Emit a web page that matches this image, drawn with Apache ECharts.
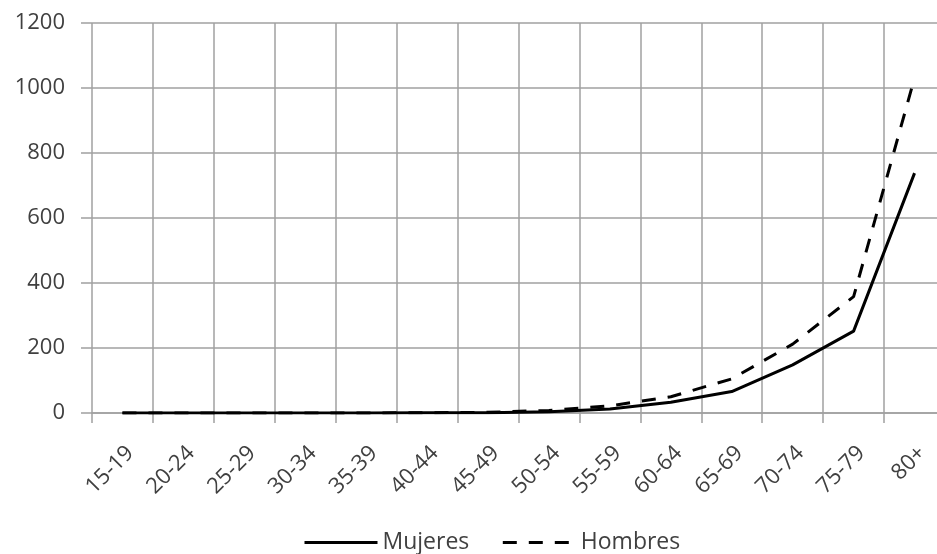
<!DOCTYPE html>
<html>
<head>
<meta charset="utf-8">
<script src="https://cdn.jsdelivr.net/npm/echarts@6/dist/echarts.min.js"></script>
<style>
html,body{margin:0;padding:0;background:#fff;}
#c{width:937px;height:554px;}
</style>
</head>
<body>
<div id="c"></div>
<script>
const categories = ['15-19','20-24','25-29','30-34','35-39','40-44','45-49','50-54','55-59','60-64','65-69','70-74','75-79','80+'];
const mujeres = [0, 0, 0, 0, 0, 0.5, 1, 4, 12, 33, 66, 148, 252, 738];
const hombres = [0, 0, 0, 0, 0, 1, 2, 8, 22, 50, 105, 212, 358, 1031];
const yTicks = { min: 0, max: 1200, interval: 200 };

const FONT = '"Open Sans", "Noto Sans", sans-serif';
const GRID = '#a0a0a0';
const TXT = '#404040';

const chart = echarts.init(document.getElementById('c'), null, { renderer: 'canvas' });
chart.setOption({
  animation: false,
  backgroundColor: '#fff',
  grid: { left: 92, top: 23, width: 853, height: 390, containLabel: false, outerBoundsMode: 'none' },
  xAxis: {
    type: 'category',
    data: categories,
    boundaryGap: true,
    axisLine: { show: true, lineStyle: { color: GRID, width: 1.5 } },
    axisTick: { show: true, alignWithLabel: false, length: 10, lineStyle: { color: GRID, width: 1.5 } },
    splitLine: { show: true, lineStyle: { color: GRID, width: 1.5 } },
    axisLabel: {
      rotate: 45, interval: 0, margin: 29, verticalAlign: 'top',
      fontFamily: FONT, fontSize: 22, color: TXT
    }
  },
  yAxis: {
    type: 'value',
    min: yTicks.min, max: yTicks.max, interval: yTicks.interval,
    axisLine: { show: false },
    axisTick: { show: true, length: 11, lineStyle: { color: GRID, width: 1.5 } },
    splitLine: { show: true, lineStyle: { color: GRID, width: 1.5 } },
    axisLabel: { margin: 27, fontFamily: FONT, fontSize: 22, color: TXT, formatter: function (v) { return String(v); } }
  },
  legend: {
    left: 298, top: 526,
    itemWidth: 73, itemHeight: 14, itemGap: 32,
    itemStyle: { color: 'transparent', borderWidth: 0, opacity: 0 },
    lineStyle: { width: 3, color: '#000' },
    textStyle: { fontFamily: FONT, fontSize: 23, color: TXT },
    data: ['Mujeres', 'Hombres']
  },
  series: [
    {
      name: 'Mujeres', type: 'line', data: mujeres,
      symbol: 'none', smooth: false,
      lineStyle: { color: '#000', width: 3 },
      itemStyle: { color: '#000' }
    },
    {
      name: 'Hombres', type: 'line', data: hombres,
      symbol: 'none', smooth: false,
      lineStyle: { color: '#000', width: 3, type: [14, 12] },
      itemStyle: { color: '#000' }
    }
  ]
});
</script>
</body>
</html>
